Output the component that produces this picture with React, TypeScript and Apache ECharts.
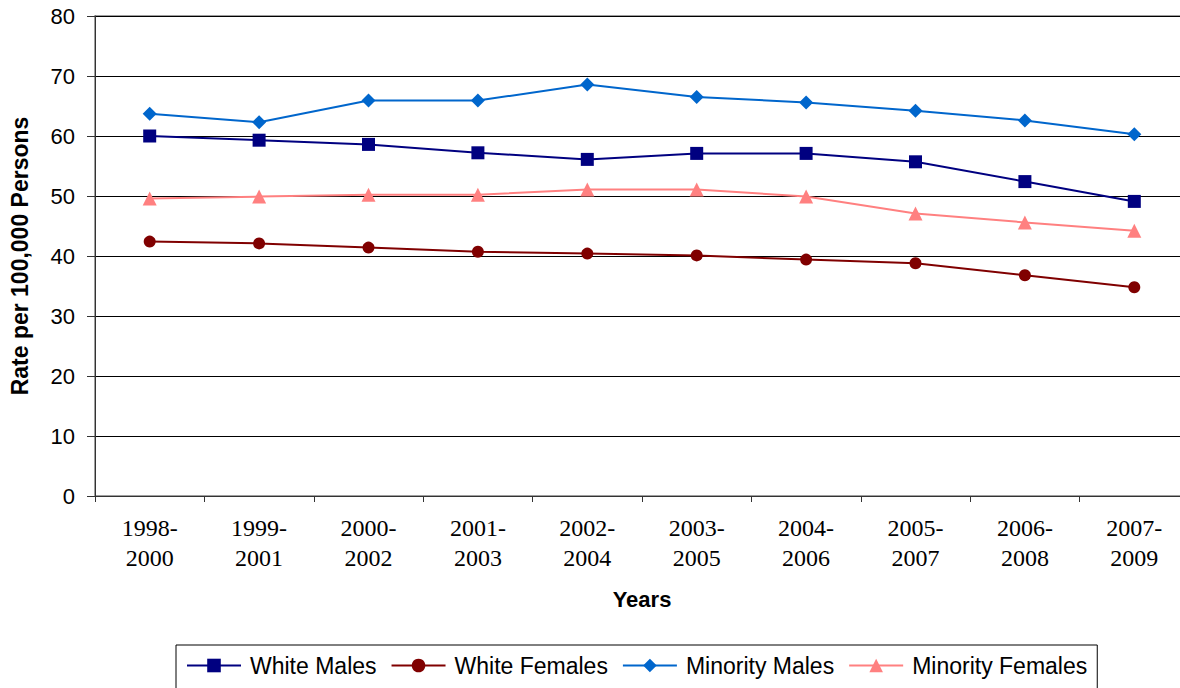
import React, { useEffect, useRef } from "react";
import * as echarts from "echarts";

const categories = [
  "1998-\n2000", "1999-\n2001", "2000-\n2002", "2001-\n2003", "2002-\n2004",
  "2003-\n2005", "2004-\n2006", "2005-\n2007", "2006-\n2008", "2007-\n2009",
];
const whiteMales = [60.0, 59.3, 58.6, 57.2, 56.1, 57.1, 57.1, 55.7, 52.4, 49.1];
const whiteFemales = [42.4, 42.1, 41.4, 40.7, 40.4, 40.1, 39.4, 38.8, 36.8, 34.8];
const minorityMales = [63.7, 62.3, 65.9, 65.9, 68.6, 66.5, 65.6, 64.2, 62.6, 60.3];
const minorityFemales = [49.6, 49.9, 50.2, 50.2, 51.1, 51.1, 49.9, 47.1, 45.6, 44.2];

const SANS = "Liberation Sans, Arial, sans-serif";
const SERIF = "Liberation Serif, Times New Roman, serif";

export default function App() {
  const ref = useRef<HTMLDivElement>(null);
  useEffect(() => {
    if (!ref.current) return;
    const chart = echarts.init(ref.current, null, { renderer: "svg" });
    const mk = (name: string, data: number[], color: string, symbol: string, size: number) => ({
      name,
      type: "line",
      data,
      symbol,
      symbolSize: size,
      lineStyle: { color, width: 2 },
      itemStyle: { color },
      z: 3,
    });
    chart.setOption({
      animation: false,
      backgroundColor: "#fff",
      grid: {
        left: 95,
        top: 16,
        right: 1,
        bottom: 192,
        show: true,
        borderColor: "#808080",
        borderWidth: 1.5,
        backgroundColor: "transparent",
      },
      legend: {
        top: 645,
        left: 176,
        itemWidth: 54,
        itemHeight: 17,
        itemGap: 14,
        padding: [9, 10, 12, 10],
        borderColor: "#000",
        borderWidth: 1,
        textStyle: { fontFamily: SANS, fontSize: 23, color: "#000", padding: [0, 0, 0, 4] },
        data: ["White Males", "White Females", "Minority Males", "Minority Females"],
      },
      xAxis: {
        type: "category",
        data: categories,
        boundaryGap: true,
        name: "Years",
        nameLocation: "middle",
        nameGap: 92,
        nameTextStyle: { fontFamily: SANS, fontSize: 22, fontWeight: "bold", color: "#000" },
        axisLine: { lineStyle: { color: "#333", width: 1 } },
        axisTick: { show: true, length: 6, lineStyle: { color: "#333" }, alignWithLabel: false },
        axisLabel: {
          fontFamily: SERIF,
          fontSize: 24,
          lineHeight: 30,
          color: "#000",
          margin: 17,
          interval: 0,
        },
        splitLine: { show: false },
      },
      yAxis: {
        type: "value",
        min: 0,
        max: 80,
        interval: 10,
        name: "Rate per 100,000 Persons",
        nameLocation: "middle",
        nameGap: 64,
        nameTextStyle: { fontFamily: SANS, fontSize: 23, fontWeight: "bold", color: "#000" },
        axisLine: { show: true, lineStyle: { color: "#333", width: 1 } },
        axisTick: { show: true, length: 8, lineStyle: { color: "#333" } },
        axisLabel: { fontFamily: SANS, fontSize: 22, color: "#000", margin: 20 },
        splitLine: { show: true, lineStyle: { color: "#000", width: 1 } },
      },
      series: [
        mk("White Males", whiteMales, "#000080", "rect", 13),
        mk("White Females", whiteFemales, "#800000", "circle", 12),
        mk("Minority Males", minorityMales, "#0066CC", "diamond", 14),
        mk("Minority Females", minorityFemales, "#FF8080", "triangle", 14),
      ],
    });
    return () => chart.dispose();
  }, []);
  return (
    <div
      ref={ref}
      style={{ position: "fixed", left: 0, top: 0, width: 1190, height: 688, background: "#fff" }}
    />
  );
}
